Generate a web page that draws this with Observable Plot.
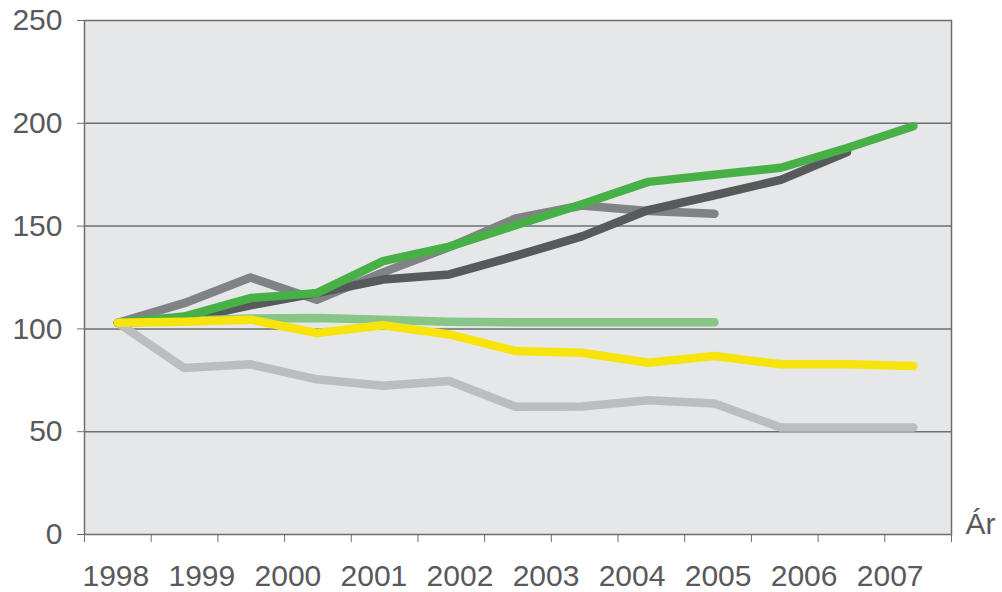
<!DOCTYPE html>
<html>
<head>
<meta charset="utf-8">
<script src="https://cdn.jsdelivr.net/npm/d3@7"></script>
<script src="https://cdn.jsdelivr.net/npm/@observablehq/plot@0.6"></script>
<style>
  html, body { margin: 0; padding: 0; background: #ffffff; }
  #chart svg { display: block; }
</style>
</head>
<body>
<div id="chart"></div>
<script>
// Category years shown on the x axis
const years = ["1998", "1999", "2000", "2001", "2002", "2003", "2004", "2005", "2006", "2007"];
const axisTitle = "Ár";
const yTicks = [0, 50, 100, 150, 200, 250];

// Series values (13 evenly spaced observations)
const lightGray  = [103, 81, 82.8, 75.5, 72.3, 74.7, 62.1, 62.3, 65.3, 63.7, 52, 52, 52];
const mediumGray = [103, 112.5, 125, 114.2, 127.5, 139.8, 153.7, 160, 157.3, 156];
const darkGray   = [103, 104.5, 111.5, 117.4, 124, 126.5, 135.5, 145, 157.8, 165, 172.5, 186];
const lightGreen = [103, 104, 105, 105.3, 104.5, 103.5, 103.2, 103.2, 103.2, 103.2];
const green      = [103, 106, 115, 117.4, 133, 140, 150.4, 160.6, 171.5, 175, 178.4, 188, 198.6];
const yellow     = [103, 103.5, 104.5, 98, 101.8, 97.3, 89.2, 88.4, 83.5, 86.8, 82.8, 82.8, 82];

const series = [
  {name: "lightGray", values: lightGray, color: "#bcbdc0"},
  {name: "mediumGray", values: mediumGray, color: "#808285"},
  {name: "darkGray", values: darkGray, color: "#58595b"},
  {name: "lightGreen", values: lightGreen, color: "#88c688"},
  {name: "green", values: green, color: "#47b047"},
  {name: "yellow", values: yellow, color: "#f7e40d"}
];

const nSlots = 13;
const lineMarks = series.map(s => Plot.line(
  s.values.map((v, i) => ({x: 0.5 + i * 0.994, y: v})),
  {x: "x", y: "y", stroke: s.color, strokeWidth: 8.5, strokeLinecap: "round", strokeLinejoin: "round"}
));

const labelPos = years.map((d, i) => 0.47 + i * 1.29);

const chart = Plot.plot({
  width: 1002,
  height: 592,
  marginLeft: 84,
  marginRight: 51,
  marginTop: 20,
  marginBottom: 58,
  style: {fontFamily: "'Liberation Sans', Arial, sans-serif", fontSize: "30px", color: "#58595b", background: "#ffffff"},
  x: {type: "linear", domain: [0, nSlots]},
  y: {domain: [0, 250]},
  marks: [
    Plot.frame({fill: "#e6e7e8", stroke: null}),
    Plot.ruleY([50, 100, 150, 200], {stroke: "#6d6e71", strokeWidth: 1.5}),
    Plot.frame({stroke: "#6d6e71", strokeWidth: 1.5}),
    Plot.axisY({ticks: yTicks, tickSize: 7, tickPadding: 15, tickFormat: d => String(d), stroke: "#6d6e71", fill: "#58595b", fontSize: 30, label: null}),
    Plot.axisX({ticks: d3.range(0, nSlots + 1), tickSize: 8, tickFormat: () => "", stroke: "#6d6e71", label: null}),
    Plot.axisX({ticks: labelPos, tickSize: 0, tickPadding: 30, tickFormat: (d, i) => years[i], fill: "#58595b", fontSize: 30, label: null}),
    ...lineMarks,
    Plot.text([axisTitle], {x: () => nSlots, y: () => 0, text: d => d, textAnchor: "start", dx: 14, dy: -10, fontSize: 30, fill: "#58595b", clip: false})
  ]
});

document.getElementById("chart").appendChild(chart);
</script>
</body>
</html>
